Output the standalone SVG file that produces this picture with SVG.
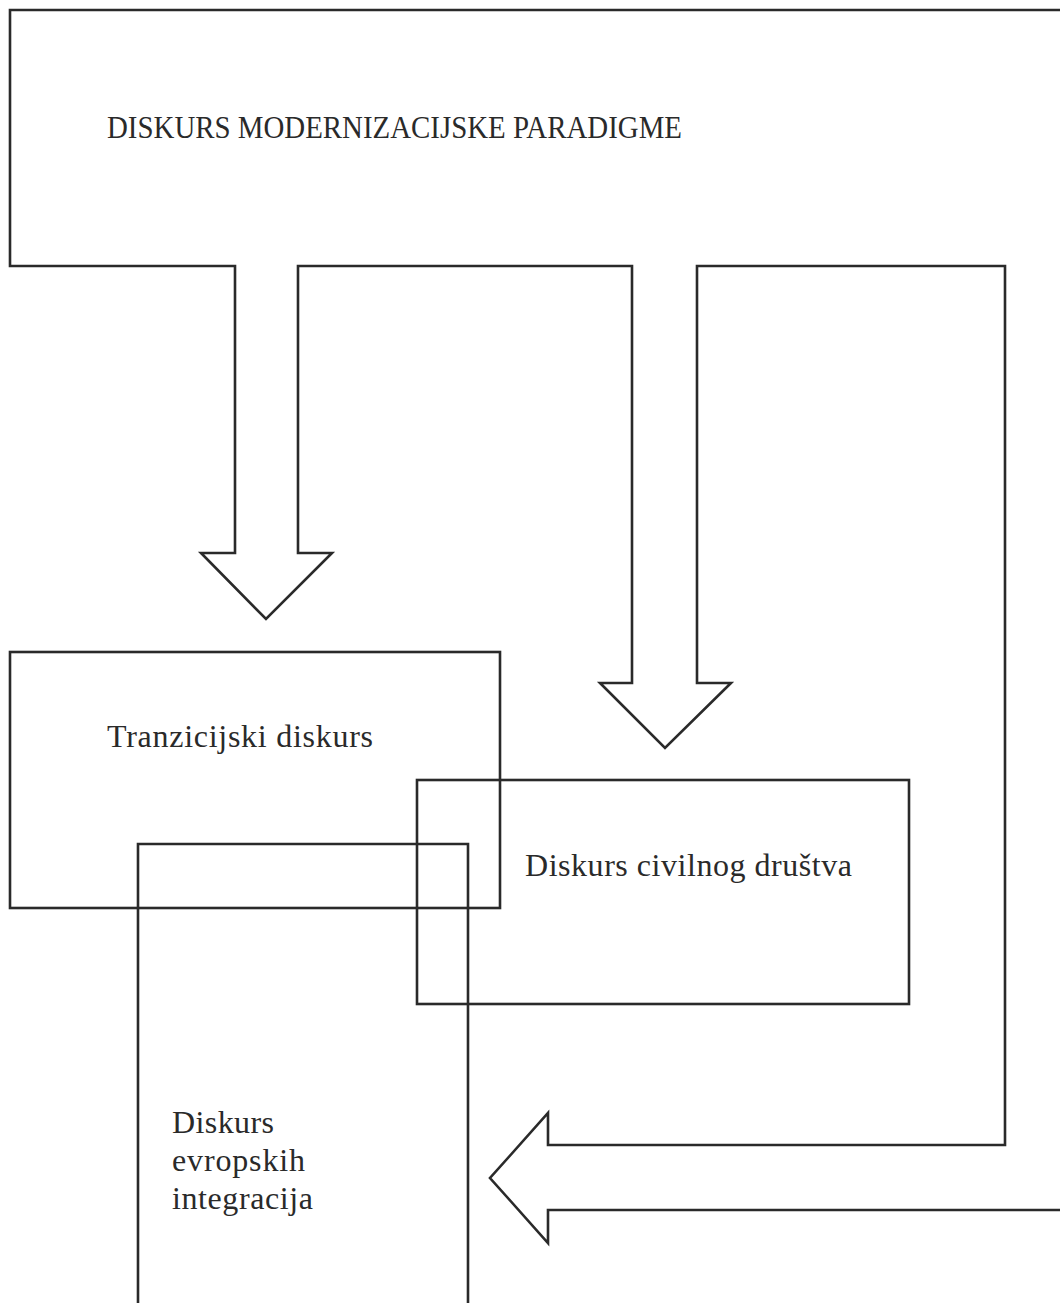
<svg xmlns="http://www.w3.org/2000/svg" width="1060" height="1303" viewBox="0 0 1060 1303">
<style>
.shape{fill:none;stroke:#2a2a2a;stroke-width:2.6;stroke-linejoin:miter}
.lbl{font-family:"Liberation Serif","DejaVu Serif",serif;font-size:32px;fill:#2a2a2a}
</style>
<rect width="1060" height="1303" fill="#ffffff"/>
<g id="paradigma">
<path class="shape" d="M1064,10 H10 V266 H235 V553 H201 L266,619 L332,553 H298 V266 H632 V683 H600 L665,748 L731,683 H697 V266 H1005 V1145 H548 V1113 L490,1178 L548,1243 V1210 H1064"/>
<text class="lbl" x="107" y="138" textLength="575" lengthAdjust="spacingAndGlyphs">DISKURS MODERNIZACIJSKE PARADIGME</text>
</g>
<g id="tranzicijski">
<rect class="shape" x="10" y="652" width="490" height="256"/>
<text class="lbl" x="107" y="747" textLength="266" lengthAdjust="spacing">Tranzicijski diskurs</text>
</g>
<g id="civilno">
<rect class="shape" x="417" y="780" width="492" height="224"/>
<text class="lbl" x="525" y="876" textLength="327" lengthAdjust="spacing">Diskurs civilnog društva</text>
</g>
<g id="evropske">
<path class="shape" d="M138,1306 V844 H468 V1306"/>
<text class="lbl" x="172" y="1133" textLength="102" lengthAdjust="spacing">Diskurs</text>
<text class="lbl" x="172" y="1171" textLength="133" lengthAdjust="spacing">evropskih</text>
<text class="lbl" x="172" y="1209" textLength="141" lengthAdjust="spacing">integracija</text>
</g>
<g id="connectors"></g>
</svg>
